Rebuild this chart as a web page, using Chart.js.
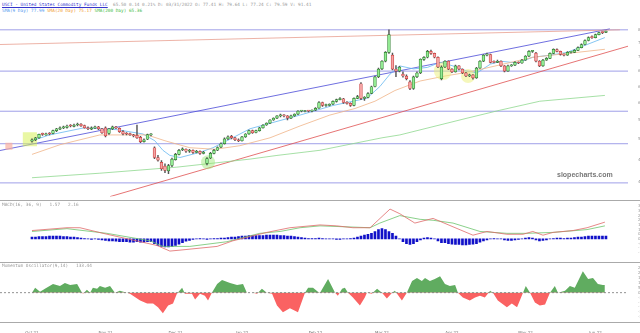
<!DOCTYPE html>
<html><head><meta charset="utf-8">
<script src="https://cdn.jsdelivr.net/npm/chart.js@4.4.1/dist/chart.umd.min.js"></script>
<style>
body{margin:0;width:640px;height:333px;background:#fff;position:relative;overflow:hidden;font-family:'DejaVu Sans Mono',monospace}
canvas{position:absolute;left:0}
.t{position:absolute;white-space:pre;font-size:4.4px;line-height:5px;color:#999}
.sep{position:absolute;left:0;width:640px;height:1px;background:#aaa}
</style></head><body>
<div class="t" style="left:2px;top:2px"><span style="color:#3333cc;text-decoration:underline">USCI - United States Commodity Funds LLC</span>  65.50 0.14 0.21% D: 03/31/2022 O: 77.41 H: 79.64 L: 77.24 C: 79.59 V: 91.41</div>
<div class="t" style="left:2px;top:8px"><span style="color:#5599ee">SMA(9 Day) 77.99</span> <span style="color:#f09a30">SMA(20 Day) 75.17</span> <span style="color:#44bb44">SMA(200 Day) 65.36</span></div>
<canvas id="main" width="640" height="201" style="top:0"></canvas>
<canvas id="macd" width="640" height="62" style="top:200px"></canvas>
<canvas id="mom" width="640" height="71" style="top:262px"></canvas>
<div class="sep" style="top:200px"></div>
<div class="sep" style="top:262px"></div>
<div class="sep" style="top:322px"></div>
<div class="t" style="left:2px;top:202px">MACD(16, 36, 9)   1.57   2.16</div>
<div class="t" style="left:2px;top:263px">Momentum Oscillator(9,14)   133.44</div>
<div style="position:absolute;left:557px;top:171px;font:bold 7px 'Liberation Sans',Arial,sans-serif;color:#777">slopecharts.com</div>
<script>
// ---------- data ----------
const opens=[51.6,51.9,52.3,53.1,52.9,53.2,53.2,53.8,54.1,54.4,
54.5,54.9,54.7,55.0,55.2,54.9,54.4,54.1,54.4,54.6,
54.2,54.4,53.2,54.2,54.6,54.3,53.6,53.2,53.1,52.9,
52.8,52.4,51.5,52.0,52.9,50.3,48.4,47.5,46.8,45.9,
46.9,48.0,49.0,49.9,50.0,49.6,49.8,49.4,49.6,49.2,
47.3,48.3,49.2,49.8,50.4,51.1,52.1,52.6,52.3,51.9,
51.7,52.5,53.1,53.8,53.4,53.8,54.4,55.0,55.4,56.1,
56.5,57.0,57.2,57.0,56.5,57.0,57.4,58.1,58.0,58.2,
58.1,58.3,58.8,60.1,59.4,59.4,59.7,60.35,60.8,61.0,
60.1,59.9,59.4,61.1,64.7,61.1,61.3,62.3,64.0,66.5,
68.6,70.7,73.2,72.4,68.5,68.0,67.2,66.7,65.2,63.5,
66.5,67.5,71.2,71.8,73.5,72.9,71.8,66.0,69.1,70.7,
68.5,67.8,69.4,68.5,67.5,66.7,67.0,66.2,68.8,70.7,
72.4,72.6,70.5,70.4,70.7,69.4,68.0,69.4,69.6,70.4,
70.2,71.0,72.1,73.5,73.0,70.7,69.4,71.0,71.5,72.9,
74.0,73.5,72.6,72.4,73.2,73.2,73.8,74.6,75.5,76.7,
77.9,77.6,78.5,79.2,79.2];
const highs=[52.1,52.4,53.1,53.3,53.3,53.4,53.9,54.3,54.6,54.8,
55.0,55.1,55.2,55.4,55.3,55.0,54.6,54.6,54.8,54.7,
54.3,54.6,54.3,54.8,54.7,54.4,53.8,53.4,53.3,53.0,
55.0,52.6,52.1,53.1,53.2,50.5,48.8,47.8,47.2,47.1,
48.3,49.2,50.0,50.3,50.1,50.0,49.9,49.8,49.7,49.6,
48.4,49.4,50.0,50.5,51.3,52.3,52.7,52.8,52.4,52.1,
52.6,53.2,53.9,53.9,53.9,54.5,55.1,55.5,56.2,56.6,
57.1,57.4,57.3,57.1,57.2,57.5,58.2,58.3,58.3,58.3,
58.4,58.9,60.3,60.2,59.7,59.8,60.5,60.9,61.3,61.1,
60.3,60.0,61.2,61.8,65.0,61.5,62.5,64.1,66.7,68.8,
70.9,73.4,80.0,73.0,69.5,69.3,67.8,67.0,65.5,66.7,
67.8,71.4,72.0,73.8,73.9,73.0,71.9,69.4,70.9,70.8,
68.7,69.6,69.5,68.6,67.7,67.2,67.1,69.0,70.9,72.6,
73.0,72.7,70.8,71.0,70.8,69.5,69.6,69.8,70.6,70.5,
71.2,72.3,73.7,73.8,73.2,70.9,71.2,71.7,73.1,74.2,
74.2,73.6,72.8,73.4,73.5,74.0,74.8,75.7,76.9,77.8,
78.1,78.7,79.3,79.4,79.64];
const lows=[51.4,51.7,52.2,52.8,52.8,52.9,53.1,53.6,54.0,54.2,
54.3,54.6,54.6,54.8,54.7,54.3,54.0,54.0,54.2,54.0,
53.2,52.5,53.0,54.0,54.2,53.4,52.9,52.9,52.8,52.5,
52.2,51.3,51.4,51.9,52.7,48.2,47.7,46.0,45.6,45.4,
46.7,47.9,48.9,49.7,49.4,49.4,49.2,49.3,49.0,49.1,
47.0,48.2,49.1,49.7,50.3,51.0,51.9,52.1,51.7,51.5,
51.6,52.4,53.0,53.2,53.3,53.7,54.3,54.9,55.3,56.0,
56.4,56.8,56.8,56.1,56.4,56.9,57.3,57.9,57.9,57.9,
57.9,58.2,58.7,59.2,59.2,59.3,59.6,60.2,60.7,59.9,
59.7,59.2,59.3,61.0,60.8,60.6,61.2,62.2,63.9,66.3,
68.4,70.5,72.9,68.3,66.5,67.8,66.4,65.7,63.2,63.3,
66.3,67.3,70.9,71.6,72.6,71.6,68.9,65.7,68.9,68.4,
67.6,67.7,68.3,67.3,66.5,66.5,65.9,66.1,68.7,70.6,
72.2,70.2,70.2,70.3,69.2,67.8,67.9,69.3,69.5,70.0,
70.1,70.9,72.0,73.2,70.5,69.2,69.3,70.9,71.4,72.8,
73.3,72.4,72.2,72.3,73.0,73.1,73.7,74.5,75.4,76.6,
77.3,77.5,78.4,78.8,79.1];
const closes=[51.9,52.3,53.0,53.0,53.1,53.1,53.8,54.2,54.4,54.6,
54.8,54.8,55.0,55.2,54.8,54.4,54.2,54.4,54.6,54.2,
53.35,52.7,54.2,54.6,54.4,53.6,53.1,53.1,52.95,52.7,
52.3,51.5,51.9,52.95,52.95,48.4,47.9,46.3,46.0,46.9,
48.1,49.0,49.8,50.0,49.6,49.8,49.4,49.6,49.2,49.4,
48.2,49.2,49.8,50.35,51.1,52.1,52.5,52.3,51.9,51.7,
52.5,53.1,53.8,53.35,53.8,54.4,55.0,55.4,56.1,56.5,
57.0,57.2,57.0,56.5,57.0,57.4,58.1,58.1,58.1,58.1,
58.3,58.75,60.1,59.4,59.4,59.7,60.35,60.8,61.06,60.1,
59.9,59.4,61.1,61.5,61.1,61.3,62.25,63.95,66.5,68.55,
70.7,73.2,78.5,68.55,68.0,69.1,66.7,66.0,63.5,66.5,
67.5,71.25,71.8,73.5,72.9,71.8,69.1,69.1,70.7,68.55,
67.8,69.4,68.55,67.5,66.7,67.0,66.2,68.8,70.7,72.4,
72.6,70.4,70.4,70.7,69.4,68.0,69.4,69.6,70.4,70.2,
71.0,72.1,73.5,73.5,70.7,69.4,71.0,71.5,72.9,74.05,
73.5,72.6,72.4,73.2,73.2,73.8,74.6,75.5,76.7,77.6,
77.6,78.5,79.1,79.1,79.59];

const sma9=[[0,51.7],[5,52.9],[14.9,54.4],[24.3,54.0],[31.7,53.1],[35.1,51.7],[37.4,49.8],[39.4,48.8],[42.3,48.4],[48,49.4],[51.7,50.3],[55.7,51.7],[62.3,54.2],[76.6,57.2],[86,59.4],[95.7,61.1],[99.4,64.0],[102.3,67.2],[105.1,69.4],[109,68.6],[113,69.0],[116.6,70.4],[120.3,69.4],[124.3,68.0],[127.1,67.5],[131,69.9],[134,70.7],[138.6,70.2],[143.1,71.8],[148,72.4],[152.9,73.2],[158.6,75.5],[163.7,77.6]];
const sma20=[[0,49.0],[8,50.9],[19.4,52.9],[32.9,52.9],[38,51.7],[45.1,50.3],[52.3,50.0],[59.4,50.7],[68,52.3],[76.6,54.8],[85.1,57.2],[92.3,58.7],[98,60.4],[103.7,63.0],[110.9,65.4],[118,66.7],[125.1,67.8],[143.1,71.8],[163.7,74.1]];
const sma200=[[0,44.7],[19.4,45.5],[41.4,46.6],[62.3,48.1],[70,48.8],[82.3,49.8],[100,52.3],[105.1,52.9],[124.3,56.5],[133.7,58.3],[145.1,60.4],[163.7,61.8]];
const trendUpper=[[-9.14,49.75],[165.1,80.3]];
const trendLower=[[22.3,41.5],[170.3,75.0]];
const trendTop=[[-9.14,75.5],[168,80.0]];
const hLevels=[80.0,68.0,58.07,51.1,43.8];
const yTicks=[80,76,72,68,64,60,56,52,48,44];
const highlights=[[-0.6,52.0],[-6.6,50.6],[50.3,47.5],[117.4,68.0],[124.6,66.7]];

const macdLine=[[0,0.9],[10,1.2],[13.7,1.2],[20.3,0.6],[35.7,-0.7],[39.4,-1.3],[42.3,-1.2],[52.9,-0.8],[57.4,-0.2],[67.1,0.7],[73.7,1.2],[82.3,1.5],[87.1,1.4],[91.7,1.2],[96.6,1.2],[102.3,3.2],[105.1,2.7],[109.4,1.7],[114.6,2.2],[120.3,1.3],[126,0.4],[130,0.8],[135.7,0.5],[140.3,0.5],[143.1,0.8],[146,0.4],[148.9,0.7],[154.6,0.9],[158.6,1.2],[163.7,1.8]];
const signalLine=[[0,0.8],[10,1.1],[21.4,0.6],[33.7,-0.2],[37.4,-0.8],[45.1,-0.8],[55.7,-0.3],[65.1,0.6],[70.9,0.8],[76.6,1.2],[82.3,1.4],[96.6,1.2],[99.4,1.7],[105.1,2.5],[110.9,2.1],[114.6,2.0],[120.3,1.7],[128,0.8],[135.7,0.6],[141.4,0.6],[148.9,0.7],[158.6,1.0],[163.7,1.4]];
const macdHist=[0.2,0.2,0.25,0.25,0.25,0.3,0.3,0.3,0.3,0.25,0.25,0.2,0.2,
0.15,0.1,0.05,0,-0.05,0,-0.05,
-0.1,-0.15,-0.2,-0.2,-0.25,-0.3,-0.3,-0.3,-0.35,-0.35,-0.3,-0.35,-0.35,-0.3,-0.3,
-0.5,-0.7,-0.8,-0.85,-0.85,-0.8,-0.7,-0.55,-0.4,-0.25,-0.15,
-0.05,0,0.05,0,-0.05,0,0.05,0.05,0.1,0.1,
0.15,0.2,0.2,0.25,0.3,
0.3,0.35,0.35,0.35,0.35,0.35,0.4,0.4,0.4,0.4,0.35,0.35,0.3,0.3,0.25,0.2,0.15,0.1,0.05,0.05,0.05,0.1,0.05,0,0,0,-0.05,-0.05,0,0,
0.05,0.1,0.2,0.3,0.4,0.5,0.6,0.8,1.0,1.1,1.0,0.8,
0.6,0.3,0,-0.3,-0.5,-0.6,-0.5,-0.3,
-0.1,0.1,0.15,0.1,0,
-0.2,-0.4,-0.4,-0.5,-0.55,-0.6,-0.6,-0.65,-0.65,-0.6,-0.55,-0.5,-0.35,-0.2,-0.1,
0,0.05,0,0,-0.1,-0.15,-0.15,-0.1,-0.05,0,
0.1,0.15,0.1,-0.1,-0.2,-0.15,-0.1,0,0.05,0.1,
0.1,0.05,0.1,0.1,0.15,
0.2,0.2,0.25,0.3,0.3,0.3,0.3,0.3,0.3];
const macdTicks=[3.5,3,2.5,2,1.5,1,0.5,0,-0.5,-1,-1.5];

const momentum=[[0,0],[0.9,50],[2.3,10],[3.7,40],[6,90],[8,70],[9.4,100],[10.9,80],[12.9,90],[14.3,0],[14.6,-10],[15.7,30],[16.6,0],[17.4,50],[18.6,40],[19.4,70],[20.9,50],[22.3,70],[23.7,0],[25.1,20],[27.1,0],[28,-10],[30.9,-80],[32.9,-110],[34.6,-110],[36,-150],[37.4,-210],[38.9,-130],[40.3,-110],[41.4,-10],[42.9,50],[43.7,-10],[45.7,-10],[46.6,-70],[48,-10],[49.4,-30],[50.3,-80],[51.4,0],[52.9,90],[54.3,130],[56.6,100],[58.6,80],[60.3,90],[61.4,0],[63.1,0],[64.3,-10],[65.7,40],[67.1,0],[68.6,-10],[70,-130],[71.7,-200],[73.7,-160],[76,-200],[78,0],[78.9,50],[80.3,50],[81.7,10],[82.3,0],[84.6,140],[86.6,0],[87.4,-30],[88.6,40],[89.4,50],[90.3,0],[91.7,-50],[93.7,-130],[95.1,-50],[95.7,0],[97.1,-10],[98.6,40],[100,0],[101.4,-60],[102.9,0],[103.7,20],[105.7,-80],[107.1,0],[108.6,120],[110,150],[111.4,120],[112.3,150],[113.7,120],[115.1,140],[116.6,170],[118,90],[119.4,70],[120.9,80],[121.7,0],[123.1,-50],[125.1,-80],[126.6,-50],[128,-30],[129.4,-50],[130.9,20],[131.7,0],[133.1,-80],[135.7,-150],[137.1,-110],[138.6,-150],[140.3,0],[141.1,70],[142.3,0],[143.7,-100],[145.1,-130],[146.6,-120],[148,0],[149.4,70],[150.3,0],[152.3,20],[153.7,70],[155.1,50],[157.4,220],[158.9,140],[160.3,150],[161.7,90],[163.1,80],[163.7,80]];
const momTicks=[250,200,150,100,50,0,-50,-100,-150,-200,-250];

const xTickIdx=[0,21,41,60,81,100,120,141,161];
const xTickLabels=['Oct 21','Nov 21','Dec 21','Jan 22','Feb 22','Mar 22','Apr 22','May 22','Jun 22'];

// ---------- helpers ----------
const X_MIN=-9.14, X_MAX=170.3;
const pts=a=>a.map(p=>({x:p[0],y:p[1]}));
const tickFont={size:4,family:'DejaVu Sans'};
function xScale(show){
  const s={type:'linear',min:X_MIN,max:X_MAX,offset:false,display:show,bounds:'data',
    grid:{display:false},border:{display:false},
    afterBuildTicks:s=>{s.ticks=xTickIdx.map(v=>({value:v}));},
    ticks:{autoSkip:false,maxRotation:0,font:tickFont,color:'#777',padding:2,
      callback:(v,i)=>xTickLabels[i]}};
  if(show) s.afterFit=sc=>{sc.height=12;};
  return s;
}
function yScale(extra,ticks,fmt){
  return Object.assign({position:'right',bounds:'data',grid:{display:false},border:{display:false},
    afterFit:s=>{s.width=12;},
    afterBuildTicks:s=>{s.ticks=ticks.map(v=>({value:v}));},
    ticks:{font:tickFont,color:'#999',padding:2,autoSkip:false,callback:fmt}},extra);
}
const base={responsive:false,animation:false,devicePixelRatio:1,
  plugins:{legend:{display:false},tooltip:{enabled:false}}};
function layout(t,b){return {autoPadding:false,padding:{top:t,bottom:b,left:0,right:0}};}
function line(data,color,w,extra){
  return Object.assign({type:'line',data:pts(data),xAxisID:'x',yAxisID:'y',borderColor:color,borderWidth:w,pointRadius:0,tension:0,fill:false,order:5},extra||{});
}

// ---------- main price panel ----------
const up=closes.map((c,i)=>c>=opens[i]);
const mainDs=[];
hLevels.forEach(v=>mainDs.push(line([[X_MIN,v],[X_MAX,v]],'#9f9fe8',1,{order:10})));
mainDs.push(line(trendTop,'#e8a090',0.8,{order:9}));
mainDs.push(line(trendUpper,'#4a4ad8',0.8,{order:9}));
mainDs.push(line(trendLower,'#e05050',0.8,{order:9}));
mainDs.push(line(sma200,'#8fd88f',0.8,{order:8}));
mainDs.push(line(sma20,'#f0b488',0.8,{order:8}));
mainDs.push(line(sma9,'#66b8f0',0.8,{order:8}));
mainDs.push(line(highlights,'rgba(0,0,0,0)',0,{order:7,showLine:false,
  pointStyle:['rect','rect','circle','circle','circle'],
  pointRadius:[10,5,7,9,7],pointBorderWidth:0,
  pointBackgroundColor:['rgba(215,240,90,0.55)','rgba(250,175,160,0.7)','rgba(150,230,110,0.45)','rgba(235,240,120,0.5)','rgba(235,240,120,0.5)']}));
mainDs.push({type:'bar',xAxisID:'x',yAxisID:'y',data:lows.map((l,i)=>({x:i,y:[l,highs[i]]})),grouped:false,
  barThickness:0.8,backgroundColor:'#555',order:2});
mainDs.push({type:'bar',xAxisID:'x',yAxisID:'y',data:opens.map((o,i)=>({x:i,y:[o,closes[i]]})),grouped:false,
  barThickness:2.8,minBarLength:1,borderWidth:0.7,borderSkipped:false,
  backgroundColor:up.map(u=>u?'#93ea93':'#f5a3a3'),
  borderColor:up.map(u=>u?'#2e7d2e':'#c83c3c'),order:1});

new Chart(document.getElementById('main'),{type:'bar',data:{datasets:mainDs},
  options:Object.assign({},base,{layout:layout(20,1),
    scales:{x:xScale(false),y:yScale({type:'logarithmic',min:41.5,max:83.15},yTicks,v=>v.toFixed(0))}})});

// ---------- MACD panel ----------
new Chart(document.getElementById('macd'),{type:'bar',data:{datasets:[
  {type:'bar',xAxisID:'x',yAxisID:'y',data:macdHist.map((v,i)=>({x:i,y:v})),barThickness:2,backgroundColor:'#1010c8',order:3},
  line(signalLine,'#6cc46c',0.8,{order:2}),
  line(macdLine,'#e06a6a',0.8,{order:1})
]},options:Object.assign({},base,{layout:layout(3,2),
  scales:{x:xScale(false),y:yScale({type:'linear',min:-2.0,max:3.7},macdTicks,v=>v.toFixed(1))}})});

// ---------- Momentum panel ----------
new Chart(document.getElementById('mom'),{type:'line',data:{datasets:[
  line([[X_MIN,0],[X_MAX,0]],'#777',0.8,{borderDash:[2,2],order:1}),
  line(momentum,'rgba(0,0,0,0)',0,{order:2,fill:{target:{value:0},above:'rgb(96,172,96)',below:'rgb(250,98,98)'}})
]},options:Object.assign({},base,{layout:layout(3,0),
  scales:{x:xScale(true),y:yScale({type:'linear',min:-290,max:270},momTicks,v=>v.toFixed(0))}})});
</script>
</body></html>
